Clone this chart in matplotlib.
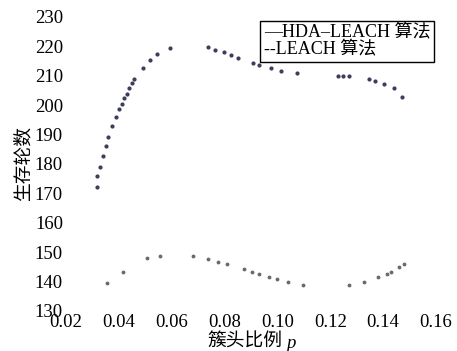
import numpy as np
import matplotlib
matplotlib.use("Agg")
import matplotlib.pyplot as plt

plt.rcParams['font.family'] = ['Liberation Serif', 'Noto Sans CJK SC']

# HDA-LEACH (upper curve)
hda_p = [0.0318, 0.0318, 0.033, 0.034, 0.0352, 0.036, 0.0375, 0.039, 0.040,
         0.0413, 0.042, 0.0432, 0.044, 0.045, 0.0459, 0.0493, 0.052, 0.0546,
         0.0595, 0.0736, 0.0763, 0.0797, 0.0824, 0.085, 0.0907, 0.093, 0.0976,
         0.1014, 0.1075, 0.123, 0.125, 0.127, 0.1345, 0.137, 0.1405, 0.144, 0.147]
hda_r = [172.2, 175.9, 179, 182.7, 186, 189, 193, 196, 198.7,
         200.4, 202.4, 203.8, 205.8, 207.5, 209, 212.6, 215.4, 217.4,
         219.5, 219.8, 218.8, 218, 217, 216, 214.4, 213.7, 212.6,
         211.6, 211, 210, 210, 210, 209, 208.2, 207.2, 205.8, 202.8]

# LEACH (lower curve)
leach_p = [0.0357, 0.0417, 0.0508, 0.0557, 0.068, 0.0736, 0.0775, 0.081,
           0.0873, 0.0903, 0.093, 0.0968, 0.1, 0.104, 0.1097, 0.127, 0.1326,
           0.138, 0.1413, 0.143, 0.146, 0.148]
leach_r = [139.5, 143.3, 148, 148.7, 148.7, 147.7, 146.7, 146,
           144.3, 143.3, 142.6, 141.6, 141, 140, 138.8, 138.8, 139.8,
           141.6, 142.6, 143.3, 145, 146]

x_ticks = [0.02, 0.04, 0.06, 0.08, 0.10, 0.12, 0.14, 0.16]
y_ticks = [130, 140, 150, 160, 170, 180, 190, 200, 210, 220, 230]

fig = plt.figure(figsize=(4.57, 3.51), dpi=100)
ax = fig.add_axes([0.144, 0.114, 0.81, 0.838])

ax.plot(hda_p, hda_r, ls='none', marker='.', ms=4, color='#3c3c5c')
ax.plot(leach_p, leach_r, ls='none', marker='.', ms=3.5, color='#6a6a6a')

ax.set_xlim(0.02, 0.16)
ax.set_ylim(130, 230)
ax.set_xticks(x_ticks)
ax.set_xticklabels(['%.2f' % v for v in x_ticks])
ax.set_yticks(y_ticks)
ax.tick_params(axis='both', which='major', length=0, labelsize=13.5, pad=2)
ax.set_xticks([0.06, 0.12], minor=True)
ax.set_yticks([160, 210], minor=True)
ax.tick_params(which='minor', direction='in', length=4, width=1.5,
               color='#444444', top=True, right=True)
for s in ax.spines.values():
    s.set_visible(False)

# x label: CJK text plus italic p
fig.text(0.617, 0.026, '簇头比例', fontsize=13.5, ha='right', va='center')
fig.text(0.627, 0.022, 'p', fontsize=13.5, style='italic', ha='left', va='center')
ax.set_ylabel('生存轮数', fontsize=13.5, labelpad=2)

ax.text(0.535, 0.975, '—HDA–LEACH 算法\n--LEACH 算法', transform=ax.transAxes,
        ha='left', va='top', fontsize=13, linespacing=1.0,
        bbox=dict(boxstyle='square,pad=0.2', fc='white', ec='black', lw=1))

fig.savefig('out.png', dpi=100)
